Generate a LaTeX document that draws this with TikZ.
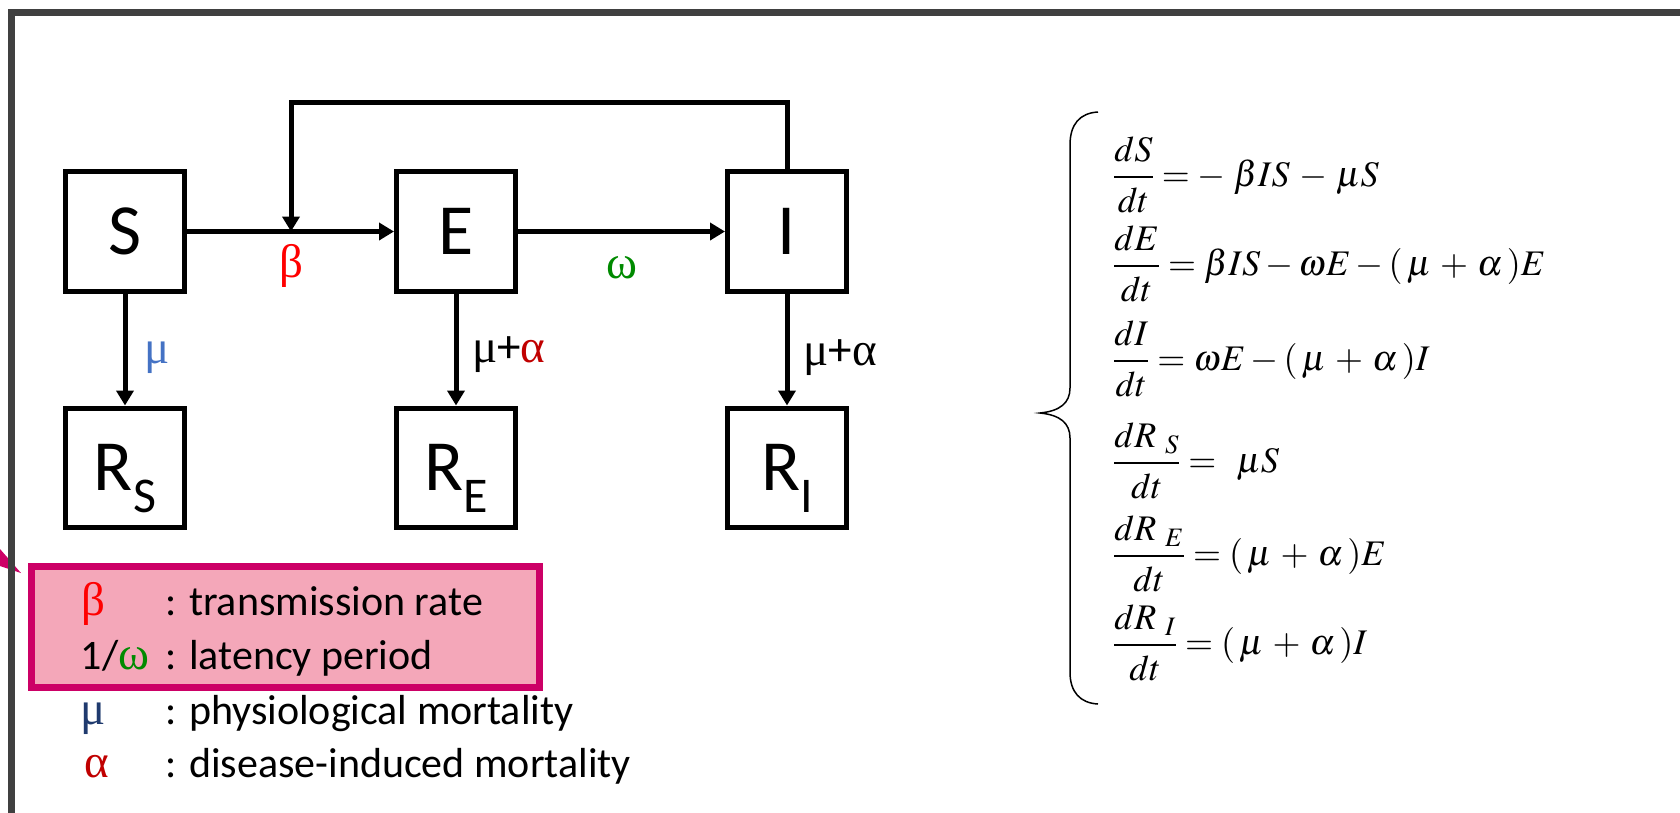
\documentclass[tikz,border=0pt]{standalone}
\usepackage{mathptmx}
\usepackage[no-math]{fontspec}
\setmainfont{Carlito}
\newfontfamily\grk{Liberation Serif}
\usetikzlibrary{arrows.meta}
\definecolor{framegray}{HTML}{404040}
\definecolor{betared}{HTML}{FF0000}
\definecolor{omegagreen}{HTML}{008A00}
\definecolor{mublue}{HTML}{4472C4}
\definecolor{alphared}{HTML}{C00000}
\definecolor{munavy}{HTML}{1F3A6E}
\definecolor{pinkfill}{HTML}{F4A7B9}
\definecolor{pinkborder}{HTML}{CC0066}
\newcommand\myfs[1]{\fontsize{#1}{#1}\selectfont}
\newcommand\gk[1]{{\grk #1}}
\newcommand\numstrut{\rule[-6pt]{0pt}{0pt}}
\newcommand\denstrut{\rule{0pt}{30pt}}
\newcommand\mpa{(\,\mu\,+\,\alpha\,)}
\begin{document}
\begin{tikzpicture}[x=1pt,y=-1pt,
  box/.style={draw=black, line width=5pt, minimum width=119pt, minimum height=120pt, inner sep=0pt, font=\myfs{72}},
  rbox/.style={box, text depth=0pt},
  arr/.style={line width=5pt, -{Triangle[length=15pt,width=17pt]}},
  rate/.style={font=\myfs{47}, inner sep=0pt},
  legsym/.style={font=\myfs{47}, anchor=base, inner sep=0pt},
  legtxt/.style={font=\myfs{42}, anchor=base west, inner sep=0pt},
  eqn/.style={font=\myfs{36}, anchor=base west, inner sep=0pt}]
\useasboundingbox (0,0) rectangle (1680,812);
% callout wedge
\fill[pinkborder] (0,549) -- (0,566) -- (21,573) -- cycle;
% frame
\draw[framegray, line width=6.7pt, line join=miter] (1690,12.7) -- (11.5,12.7) -- (11.5,820);
% boxes
\node[box] (S) at (125,231.5) {S};
\node[box] (E) at (456,231.5) {E};
\node[box] (I) at (787,231.5) {I};
\node[rbox, minimum height=119pt] (RS) at (125,467.5) {R\raisebox{-22pt}{\myfs{50}S}};
\node[rbox, minimum height=119pt] (RE) at (456,467.5) {R\raisebox{-22pt}{\myfs{50}E}};
\node[rbox, minimum height=119pt] (RI) at (787,467.5) {R\raisebox{-22pt}{\myfs{50}I}};
% connectors
\coordinate (join) at (291,231.5);
\coordinate (fbtop) at (787,102);
\draw[line width=5pt] (S.east) -- (join);
\draw[arr] (join) -- (E.west);
\draw[arr] (E.east) -- (I.west);
\draw[arr, line join=miter] (I.north) -- (fbtop) -| (join);
\draw[arr] (S.south) -- (RS.north);
\draw[arr] (E.south) -- (RE.north);
\draw[arr] (I.south) -- (RI.north);
% rate labels
\node[rate, text=betared] (lbeta) at (291,266) {\gk{β}};
\node[rate, text=omegagreen] (lomega) at (622,268) {\gk{ω}};
\node[rate, text=mublue] (lmu) at (157,358) {\gk{μ}};
\node[rate] (lmuaE) at (509,355) {\gk{μ}+\textcolor{alphared}{\gk{α}}};
\node[rate] (lmuaI) at (840,358) {\gk{μ}+\gk{α}};
% legend
\node[draw=pinkborder, fill=pinkfill, line width=6.7pt, minimum width=508pt, minimum height=121pt, inner sep=0pt] (legbox) at (285.5,627) {};
\node[legsym, text=betared] (s1) at (93,615) {\gk{β}};
\node[legsym] (s2) at (115,669) {\myfs{42}1/\textcolor{omegagreen}{\myfs{47}\gk{ω}}};
\node[legsym, text=munavy] (s3) at (93,724) {\gk{μ}};
\node[legsym, text=alphared] (s4) at (97,777) {\gk{α}};
\node[legtxt] (t1) at (165,615) {: transmission rate};
\node[legtxt] (t2) at (165,669) {: latency period};
\node[legtxt] (t3) at (165,724) {: physiological mortality};
\node[legtxt] (t4) at (165,777) {: disease-induced mortality};
% brace
\draw[line width=1.5pt] (1098,112) .. controls (1080,113) and (1070,124) .. (1070,145) -- (1070,388) .. controls (1070,403) and (1060,411) .. (1040,413) .. controls (1060,415) and (1070,423) .. (1070,438) -- (1070,672) .. controls (1070,692) and (1080,703) .. (1098,704);
% equations
\node[eqn] (eq1) at (1113,186) {$\displaystyle\frac{dS\numstrut}{\denstrut dt} = -\;\beta IS\,-\,\mu S$};
\node[eqn] (eq2) at (1113,275) {$\displaystyle\frac{dE\numstrut}{\denstrut dt} = \beta IS - \omega E - \mpa E$};
\node[eqn] (eq3) at (1113,370) {$\displaystyle\frac{dI\numstrut}{\denstrut dt} = \omega E - \mpa I$};
\node[eqn] (eq4) at (1113,472) {$\displaystyle\frac{dR_{\;\,S}\numstrut}{\denstrut dt} = \;\,\mu S$};
\node[eqn] (eq5) at (1113,565) {$\displaystyle\frac{dR_{\;\,E}\numstrut}{\denstrut dt} = \mpa E$};
\node[eqn] (eq6) at (1113,654) {$\displaystyle\frac{dR_{\;\,I}\numstrut}{\denstrut dt} = \mpa I$};
\end{tikzpicture}
\end{document}
